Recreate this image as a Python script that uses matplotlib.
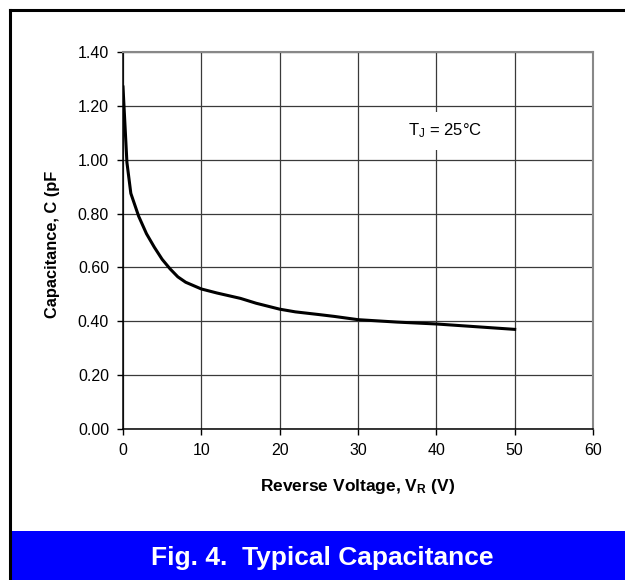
import matplotlib
matplotlib.use("Agg")
import matplotlib.pyplot as plt
from matplotlib.lines import Line2D
from matplotlib.patches import Rectangle
import numpy as np

plt.rcParams['font.family'] = ['Liberation Sans', 'DejaVu Sans']
plt.rcParams['mathtext.fontset'] = 'custom'
plt.rcParams['mathtext.rm'] = 'Liberation Sans'
plt.rcParams['mathtext.it'] = 'Liberation Sans'
plt.rcParams['mathtext.bf'] = 'Liberation Sans:bold'

# reverse voltage (V) and capacitance (pF)
voltage = [0, 0.5, 1, 2, 3, 4, 5, 6, 7, 8, 10, 12, 15, 17, 20, 22, 25, 27, 30, 35, 40, 45, 50]
capacitance = [1.27, 0.99, 0.875, 0.79, 0.725, 0.675, 0.63, 0.595, 0.565, 0.545, 0.52,
               0.505, 0.485, 0.467, 0.445, 0.435, 0.425, 0.418, 0.406, 0.397, 0.39, 0.38, 0.37]

x_ticks = [0, 10, 20, 30, 40, 50, 60]
y_ticks = [0.0, 0.2, 0.4, 0.6, 0.8, 1.0, 1.2, 1.4]

W, H = 625, 580
fig = plt.figure(figsize=(W / 100, H / 100), dpi=100)
ax = fig.add_axes([123 / W, 1 - 429 / H, 470 / W, 377 / H])

ax.plot(voltage, capacitance, color='black', lw=2.2, solid_joinstyle='round', zorder=3)

ax.set_xlim(0, 60)
ax.set_ylim(0, 1.4)
ax.set_xticks(x_ticks)
ax.set_yticks(y_ticks)
ax.set_yticklabels([f'{v:.2f}' for v in y_ticks])
ax.tick_params(direction='out', length=4, width=1, labelsize=11.5, pad=6, color='black')
ax.grid(True, color='#3a3a3a', lw=0.9)
ax.set_axisbelow(True)
for side in ['left', 'bottom']:
    ax.spines[side].set_color('black')
    ax.spines[side].set_linewidth(1.1)
for side in ['top', 'right']:
    ax.spines[side].set_color('#888888')
    ax.spines[side].set_linewidth(1.5)

ax.set_xlabel(r'Reverse Voltage, V$_\mathbf{R}$ (V)', fontsize=12.5, fontweight='bold', va='center')
ax.xaxis.set_label_coords(0.5, -0.153)
ax.set_ylabel('Capacitance, C (pF', fontsize=11.8, fontweight='bold', va='center')
ax.yaxis.set_label_coords(-0.151, 0.49)

ax.text(41.1, 1.107, r'T$_\mathrm{J}$ = 25°C', fontsize=12, ha='center', va='center', zorder=4,
        bbox=dict(boxstyle='square', fc='white', ec='none', pad=0.6))

# outer frame (left and top edges) and blue caption band
fig.add_artist(Line2D([10 / W, 10 / W], [0, 1 - 10 / H], color='black', lw=2.2))
fig.add_artist(Line2D([10 / W, 1], [1 - 10 / H, 1 - 10 / H], color='black', lw=2.2))
fig.add_artist(Rectangle((11.5 / W, 0), 1 - 11.5 / W, 49 / H, transform=fig.transFigure,
                         facecolor='#0000ff', edgecolor='none'))
fig.text(322 / W, 1 - 558 / H, 'Fig. 4.  Typical Capacitance', color='white',
         fontsize=19, fontweight='bold', ha='center', va='center')

fig.savefig('out.png', dpi=100)
